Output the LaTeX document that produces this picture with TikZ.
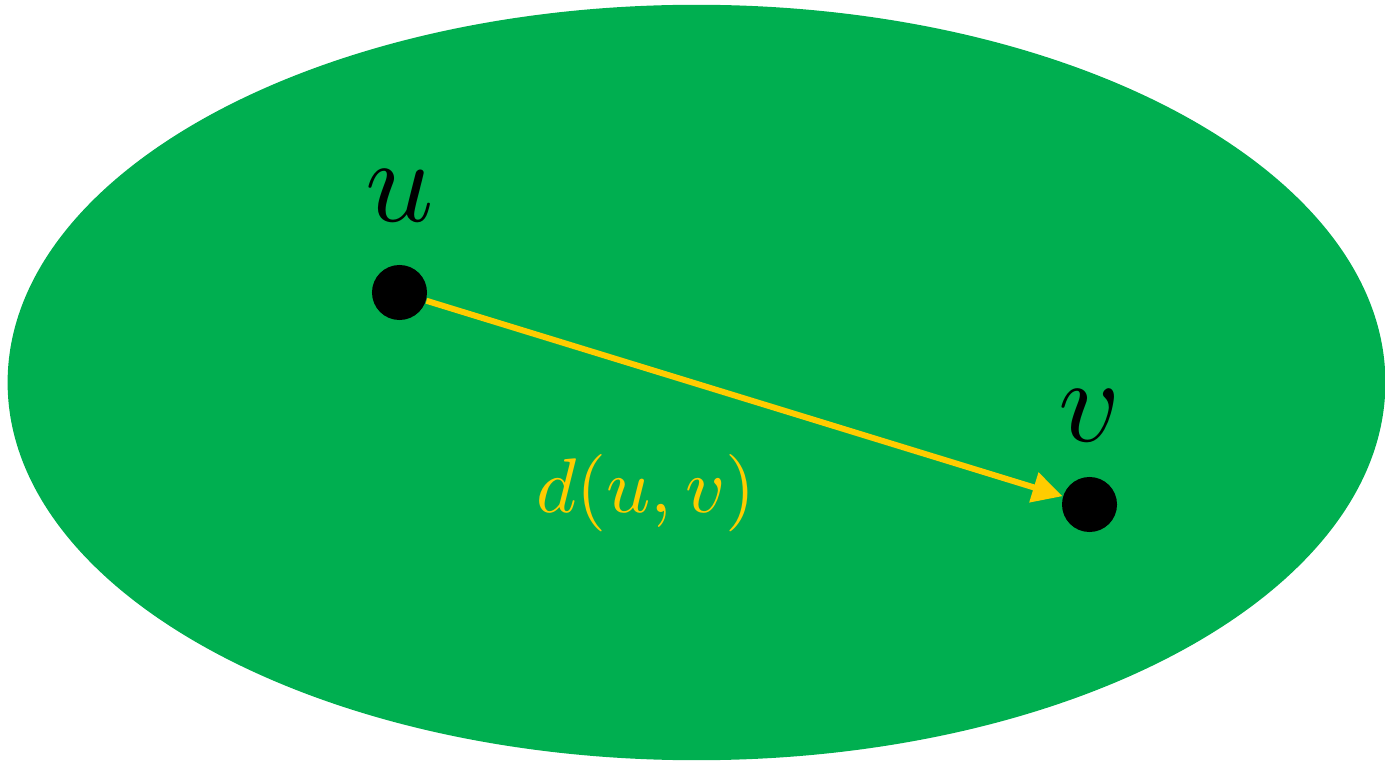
\documentclass[tikz,border=0pt]{standalone}
\usepackage{graphicx}
\usepackage{xcolor}
\usetikzlibrary{arrows.meta,positioning}

\definecolor{setgreen}{HTML}{00AF50}
\definecolor{distyellow}{HTML}{FFCC00}
\newcommand{\bigmath}[2]{\scalebox{#1}{$#2$}}

\begin{document}
\begin{tikzpicture}[
    x=0.01cm, y=-0.01cm,
    vtx/.style={circle, fill=black, inner sep=0pt, minimum size=0.55cm},
    vlbl/.style={inner sep=0pt},
    dlbl/.style={inner sep=0pt, text=distyellow},
    edge/.style={distyellow, line width=0.06cm, -{Triangle[length=0.3cm, width=0.3cm]}}
]
\useasboundingbox (0,0) rectangle (1385,761);
\fill[setgreen] (696.5,382.5) ellipse [x radius=6.885cm, y radius=3.775cm];

\node[vtx] (u) at (399.5,292.5) {};
\node[vtx] (v) at (1089.5,504.5) {};
\node[vlbl, above=0.42cm of u] (ulbl) {\bigmath{3.4}{u}};
\node[vlbl, above=0.34cm of v] (vlbl) {\bigmath{3.4}{v}};

\draw[edge] (u) -- (v);
\node[dlbl] (dist) at (646,493) {\bigmath{2.2}{d(u,v)}};
\end{tikzpicture}
\end{document}
